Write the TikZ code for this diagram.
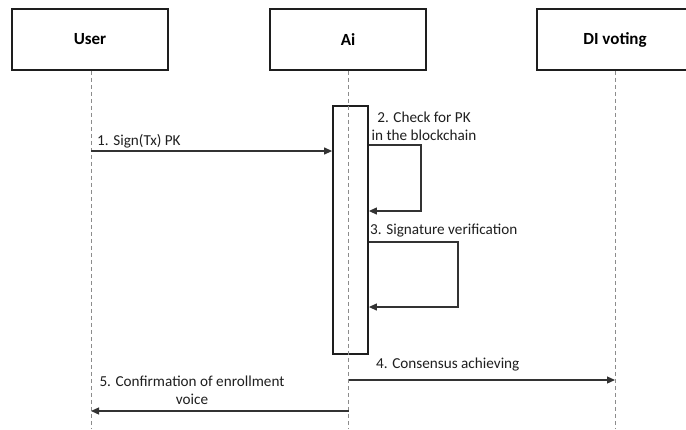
\documentclass[tikz,border=0pt]{standalone}
\usepackage{fontspec}
\setmainfont{Carlito}
\usetikzlibrary{arrows.meta}
\definecolor{boxline}{HTML}{1E1E1E}
\definecolor{msgline}{HTML}{333333}
\definecolor{lifegray}{HTML}{8C8C8C}
\tikzset{
  actor/.style={draw=boxline, line width=1.8pt, fill=white, minimum width=156pt,
    minimum height=61pt, inner sep=0pt, font=\fontsize{17}{20}\selectfont\bfseries},
  lifeline/.style={draw=lifegray, line width=0.9pt, dash pattern=on 4pt off 3pt},
  actbox/.style={draw=boxline, line width=1.8pt, fill=white, minimum width=35pt,
    minimum height=248pt, inner sep=0pt},
  msg/.style={draw=msgline, line width=1.2pt, -{Triangle[length=8pt,width=7pt]}},
  lbl/.style={inner sep=0pt, font=\fontsize{15.2}{18}\selectfont, text=black!88}
}
\begin{document}
\begin{tikzpicture}[x=1pt,y=-1pt]
  \useasboundingbox[fill=white] (0,0) rectangle (686,429);
  \clip (0,0) rectangle (686,429);

  % participants
  \node[actor] (user) at (90,39.5) {User};
  \node[actor] (ai)   at (348,39.5) {Ai};
  \node[actor] (dl)   at (615,39.5) {DI voting};

  % lifeline ends
  \coordinate (userEnd) at (91,429);
  \coordinate (aiEnd)   at (348.5,429);
  \coordinate (dlEnd)   at (615,429);

  \draw[lifeline] (user.south) ++(1,0) -- (userEnd);
  \draw[lifeline] (dl.south) -- (dlEnd);

  % activation bar on Ai
  \node[actbox] (act) at (350.5,230) {};
  \draw[lifeline] (ai.south) ++(0.5,0) -- (aiEnd);

  % message points
  \coordinate (m1s) at (91,151);
  \coordinate (l2a) at (act.east |- 0,145);
  \coordinate (l2b) at (421,145);
  \coordinate (l2c) at (421,211);
  \coordinate (l2d) at (act.east |- 0,211);
  \coordinate (l3a) at (act.east |- 0,242);
  \coordinate (l3b) at (458,242);
  \coordinate (l3c) at (458,307);
  \coordinate (l3d) at (act.east |- 0,307);
  \coordinate (m4s) at (348.5,380);
  \coordinate (m4e) at (615,380);
  \coordinate (m5s) at (348.5,411);
  \coordinate (m5e) at (91,411);

  % 1. request
  \draw[msg] (m1s) -- (act.west |- m1s);
  \node[lbl, anchor=west] (t1) at (97,141) {1. Sign(Tx) PK};

  % 2. self call
  \draw[msg] (l2a) -- (l2b) -- (l2c) -- (l2d);
  \node[lbl, align=center] (t2) at (424,126) {2. Check for PK\\in the blockchain};

  % 3. self call
  \draw[msg] (l3a) -- (l3b) -- (l3c) -- (l3d);
  \node[lbl, anchor=west] (t3) at (370,231) {3. Signature verification};

  % 4. consensus
  \draw[msg] (m4s) -- (m4e);
  \node[lbl, anchor=west] (t4) at (376,365) {4. Consensus achieving};

  % 5. confirmation
  \draw[msg] (m5s) -- (m5e);
  \node[lbl, align=center] (t5) at (192,390) {5. Confirmation of enrollment\\voice};
\end{tikzpicture}
\end{document}
